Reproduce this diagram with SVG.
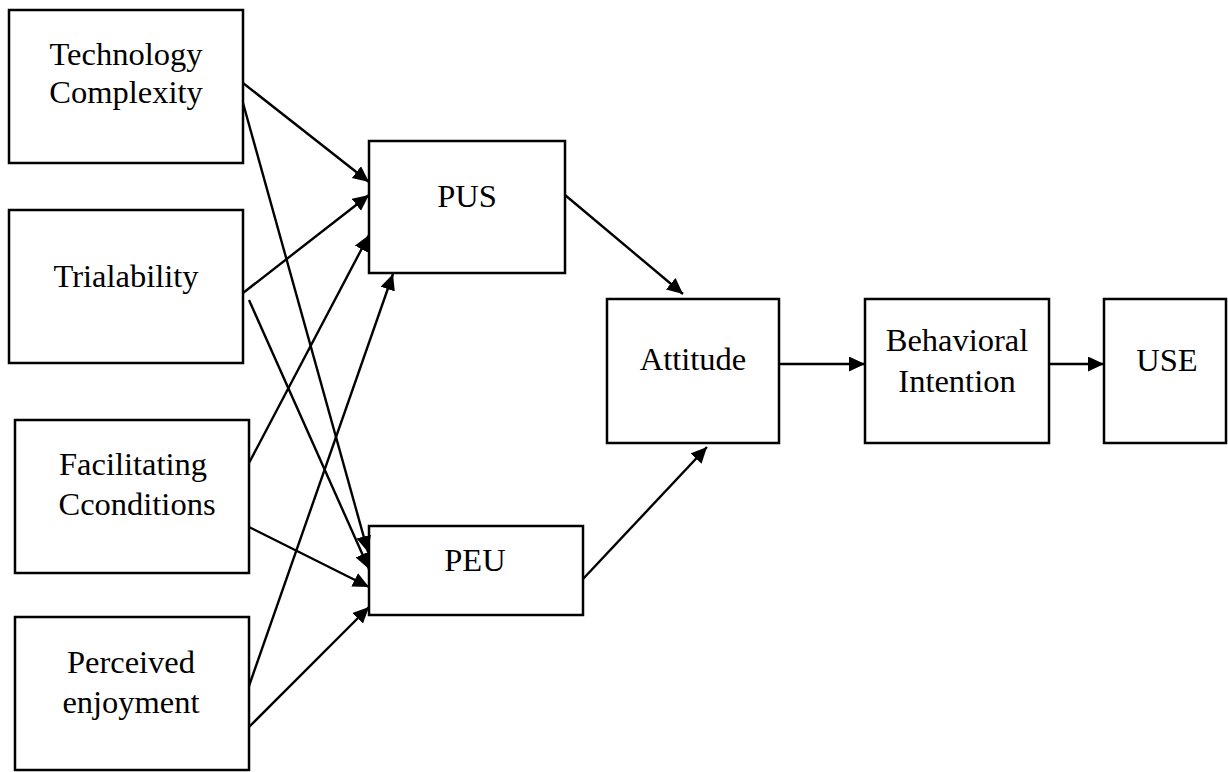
<svg xmlns="http://www.w3.org/2000/svg" width="1228" height="772" viewBox="0 0 1228 772">
<style>
.box{fill:#fff;stroke:#000;stroke-width:2.5}
.lbl{font-family:"Liberation Serif","Times New Roman",serif;font-size:32.5px;fill:#000;text-anchor:middle}
.c{stroke:#000;stroke-width:2.4;fill:none;marker-end:url(#ah)}
</style>
<defs>
<marker id="ah" markerUnits="userSpaceOnUse" markerWidth="17" markerHeight="16" refX="16" refY="7.5" orient="auto">
<path d="M0,0 L16,7.5 L0,15 z" fill="#000"/>
</marker>
</defs>
<rect width="1228" height="772" fill="#fff"/>
<g id="n-tc"><rect class="box" x="9" y="10" width="234" height="153"/><text class="lbl" x="126" y="65">Technology</text><text class="lbl" x="126" y="103">Complexity</text></g>
<g id="n-tr"><rect class="box" x="9" y="210" width="234" height="153"/><text class="lbl" x="126" y="287">Trialability</text></g>
<g id="n-fc"><rect class="box" x="15" y="420" width="234" height="153"/><text class="lbl" x="133" y="475">Facilitating</text><text class="lbl" x="137" y="515">Cconditions</text></g>
<g id="n-pe"><rect class="box" x="15" y="617" width="234" height="153"/><text class="lbl" x="131" y="673">Perceived</text><text class="lbl" x="131" y="713">enjoyment</text></g>
<g id="n-pus"><rect class="box" x="369" y="141" width="196" height="132"/><text class="lbl" x="467" y="207">PUS</text></g>
<g id="n-peu"><rect class="box" x="369" y="526" width="214" height="89"/><text class="lbl" x="475" y="571">PEU</text></g>
<g id="n-att"><rect class="box" x="607" y="299" width="172" height="144"/><text class="lbl" x="693" y="370">Attitude</text></g>
<g id="n-bi"><rect class="box" x="865" y="299" width="184" height="144"/><text class="lbl" x="957" y="351">Behavioral</text><text class="lbl" x="957" y="392">Intention</text></g>
<g id="n-use"><rect class="box" x="1104" y="299" width="122" height="144"/><text class="lbl" x="1167" y="371">USE</text></g>
<g id="connectors">
<line class="c" x1="243" y1="83" x2="369" y2="182"/>
<line class="c" x1="243" y1="103" x2="368" y2="552"/>
<line class="c" x1="243" y1="293" x2="369" y2="195"/>
<line class="c" x1="249" y1="300" x2="369" y2="569"/>
<line class="c" x1="249" y1="463" x2="369" y2="235"/>
<line class="c" x1="249" y1="527" x2="369" y2="587"/>
<line class="c" x1="249" y1="686" x2="393" y2="274"/>
<line class="c" x1="249" y1="727" x2="369" y2="607"/>
<line class="c" x1="565" y1="195" x2="683" y2="294"/>
<line class="c" x1="583" y1="579" x2="707" y2="447"/>
<line class="c" x1="779" y1="364" x2="865" y2="364"/>
<line class="c" x1="1049" y1="364" x2="1104" y2="364"/>
</g>
</svg>
